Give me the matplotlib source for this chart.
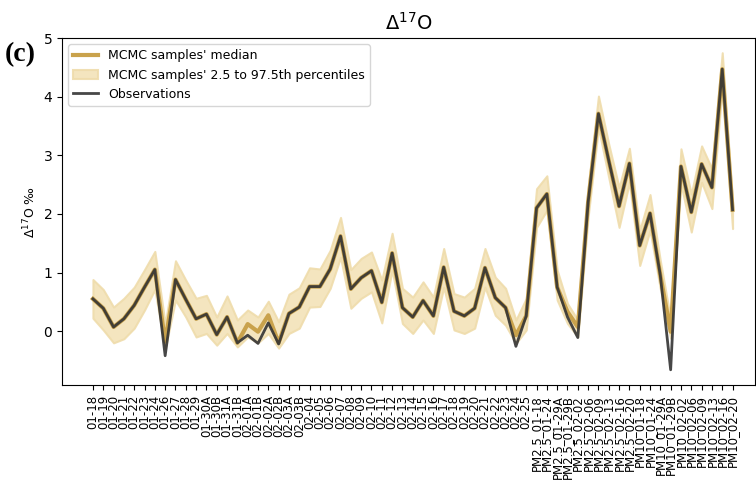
import matplotlib
matplotlib.use('Agg')
import matplotlib.pyplot as plt
import numpy as np

# sample labels
days_01 = ['01-18', '01-19', '01-20', '01-21', '01-22', '01-23', '01-24', '01-26',
           '01-27', '01-28', '01-29', '01-30A', '01-30B', '01-31A', '01-31B']
days_02 = ['02-01A', '02-01B', '02-02A', '02-02B', '02-03A', '02-03B'] + \
          ['02-%02d' % d for d in range(4, 26)]
pm_days = ['01-18', '01-24', '01-29A', '01-29B', '02-02', '02-06', '02-09', '02-13', '02-16', '02-20']
labels = days_01 + days_02 + ['PM2.5_' + d for d in pm_days] + ['PM10_' + d for d in pm_days]

obs = [0.55, 0.39, 0.07, 0.21, 0.44, 0.75, 1.05, -0.42, 0.88, 0.54,
       0.21, 0.29, -0.06, 0.24, -0.20, -0.07, -0.21, 0.14, -0.22, 0.30,
       0.41, 0.76, 0.76, 1.06, 1.62, 0.72, 0.91, 1.03, 0.49, 1.33,
       0.40, 0.24, 0.52, 0.26, 1.09, 0.34, 0.26, 0.39, 1.08, 0.57,
       0.40, -0.26, 0.26, 2.10, 2.34, 0.75, 0.24, -0.11, 2.20, 3.71,
       2.91, 2.13, 2.86, 1.46, 2.01, 0.95, -0.66, 2.81, 2.03, 2.85,
       2.45, 4.47, 2.07]
median = [0.55, 0.39, 0.07, 0.21, 0.44, 0.75, 1.05, -0.18, 0.88, 0.54,
          0.21, 0.29, -0.06, 0.24, -0.20, 0.12, -0.01, 0.27, -0.20, 0.30,
          0.41, 0.76, 0.76, 1.06, 1.62, 0.72, 0.91, 1.03, 0.49, 1.33,
          0.40, 0.24, 0.52, 0.26, 1.09, 0.34, 0.26, 0.39, 1.08, 0.57,
          0.40, -0.07, 0.26, 2.10, 2.34, 0.75, 0.33, 0.07, 2.20, 3.71,
          2.91, 2.13, 2.86, 1.46, 2.01, 0.95, -0.01, 2.81, 2.03, 2.85,
          2.45, 4.47, 2.07]
upper = [0.88, 0.71, 0.41, 0.56, 0.75, 1.05, 1.36, 0.12, 1.20, 0.87,
         0.56, 0.61, 0.24, 0.60, 0.19, 0.36, 0.24, 0.51, 0.16, 0.63,
         0.74, 1.08, 1.06, 1.38, 1.94, 1.05, 1.24, 1.35, 0.87, 1.67,
         0.73, 0.58, 0.84, 0.58, 1.41, 0.64, 0.58, 0.73, 1.41, 0.92,
         0.73, 0.19, 0.56, 2.43, 2.65, 1.04, 0.47, 0.19, 2.45, 4.01,
         3.19, 2.45, 3.12, 1.72, 2.33, 1.20, 0.20, 3.11, 2.34, 3.16,
         2.77, 4.75, 2.20]
lower = [0.22, 0.02, -0.20, -0.13, 0.05, 0.36, 0.71, -0.30, 0.53, 0.24,
         -0.10, -0.04, -0.24, -0.04, -0.27, -0.10, -0.20, -0.04, -0.29, -0.04,
         0.05, 0.41, 0.42, 0.73, 1.26, 0.39, 0.56, 0.67, 0.14, 1.04,
         0.13, -0.04, 0.19, -0.04, 0.75, 0.02, -0.04, 0.05, 0.75, 0.27,
         0.10, -0.21, 0.02, 1.77, 2.06, 0.53, 0.13, -0.10, 1.95, 3.47,
         2.62, 1.77, 2.54, 1.12, 1.72, 0.72, -0.12, 2.51, 1.69, 2.54,
         2.09, 4.18, 1.75]

GOLD = '#c9a24c'
BAND = '#f3e3b8'
DARK = '#333333'

fig = plt.figure(figsize=(7.56, 4.88), dpi=100)
ax = fig.add_axes([0.082, 0.211, 0.917, 0.711])
x = np.arange(len(labels))

ax.plot(x, median, color=GOLD, linewidth=3, label="MCMC samples' median", zorder=3)
ax.fill_between(x, lower, upper, facecolor=BAND, alpha=0.9, linewidth=1.5,
                edgecolor='#efdcab', label="MCMC samples' 2.5 to 97.5th percentiles", zorder=2)
ax.plot(x, obs, color=DARK, linewidth=2, alpha=0.9, label='Observations', zorder=4)

ax.set_xticks(x)
ax.set_xticklabels(labels, rotation=90, fontsize=8.5)
ax.set_xlim(-3, 64.2)
ax.set_ylim(-0.92, 5.0)
ax.set_yticks([0, 1, 2, 3, 4, 5])
ax.tick_params(axis='y', labelsize=10)
ax.set_ylabel(r'$\Delta^{17}$O ‰', fontsize=9)
ax.set_title(r'$\Delta^{17}$O', fontsize=14)
ax.legend(loc='upper left', fontsize=9, framealpha=0.8)

fig.text(0.006, 0.875, '(c)', fontsize=20, fontweight='bold', family='Liberation Serif')

plt.savefig('out.png', dpi=100)
plt.close()
